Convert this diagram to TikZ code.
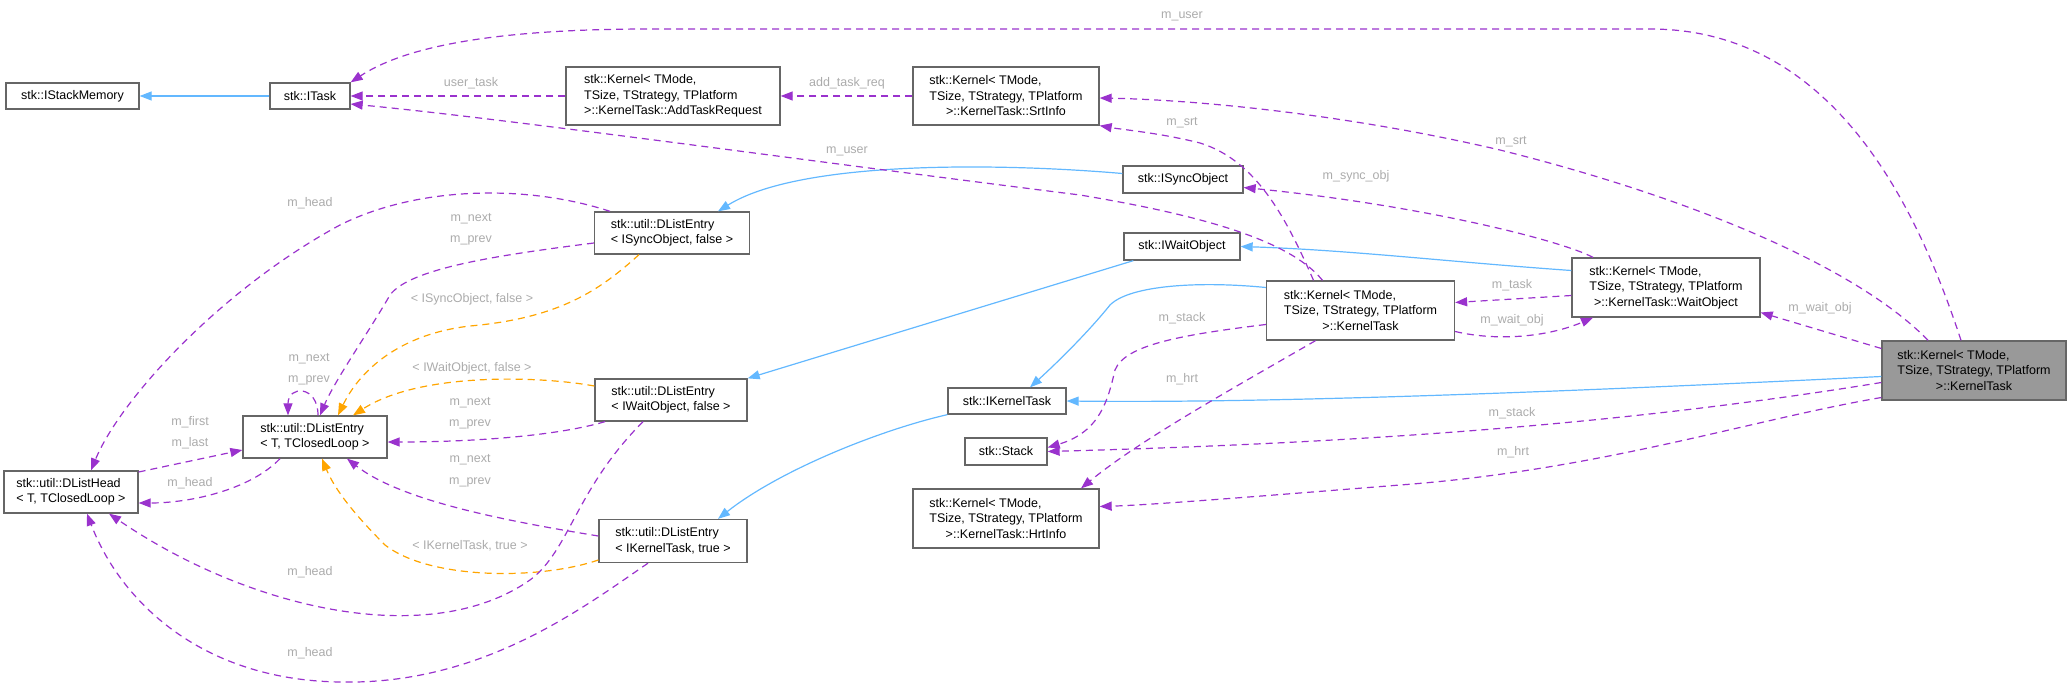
\documentclass[tikz,border=0pt]{standalone}
\usepackage{fontspec}
\setmainfont{Liberation Sans}
\usetikzlibrary{positioning, arrows.meta, calc}
\definecolor{usecol}{HTML}{9A32CD}
\definecolor{inhcol}{HTML}{63B8FF}
\definecolor{tplcol}{HTML}{FFA500}
\definecolor{boxcol}{HTML}{666666}
\definecolor{maincol}{HTML}{999999}
\definecolor{lblcol}{HTML}{ABABAB}
\newcommand{\midline}[1]{\hfill #1\hfill\mbox{}}

\begin{document}
\begin{tikzpicture}[x=1pt, y=-1pt,
	cls/.style={draw=boxcol, line width=1.3pt, fill=white, align=left, inner sep=2pt, font=\fontsize{12.5}{15.5}\selectfont},
	usage/.style={color=usecol, line width=1.2pt, dash pattern=on 7pt off 5pt, -{Triangle[length=12pt,width=9pt]}},
	inherit/.style={color=inhcol, line width=1.2pt, -{Triangle[length=12pt,width=9pt]}},
	tmpl/.style={color=tplcol, line width=1.2pt, dash pattern=on 7pt off 5pt, -{Triangle[length=12pt,width=9pt]}},
	lbl/.style={text=lblcol, inner sep=0pt, font=\fontsize{12.5}{15}\selectfont}]
						\useasboundingbox (0,0) rectangle (2072,687);
						
						% Classes
						\node[cls, minimum width=133pt, minimum height=26pt] (IStackMemory) at (72.5,96) {stk::IStackMemory};
						\node[cls, minimum width=80pt, minimum height=26pt] (ITask) at (310,96) {stk::ITask};
						\node[cls, minimum width=214pt, minimum height=58pt] (AddTaskReq) at (673,96) {stk::Kernel< TMode,\\ TSize, TStrategy, TPlatform\\ \midline{>::KernelTask::AddTaskRequest}};
						\node[cls, minimum width=186pt, minimum height=58pt] (SrtInfo) at (1006,96) {stk::Kernel< TMode,\\ TSize, TStrategy, TPlatform\\ \midline{>::KernelTask::SrtInfo}};
						\node[cls, minimum width=120pt, minimum height=27pt] (ISyncObject) at (1183,179.5) {stk::ISyncObject};
						\node[cls, minimum width=116pt, minimum height=27pt] (IWaitObject) at (1182,246.5) {stk::IWaitObject};
						\node[cls, minimum width=188pt, minimum height=59pt] (KTask) at (1360.5,310.5) {stk::Kernel< TMode,\\ TSize, TStrategy, TPlatform\\ \midline{>::KernelTask}};
						\node[cls, minimum width=188pt, minimum height=59pt] (WaitObj) at (1666,287.5) {stk::Kernel< TMode,\\ TSize, TStrategy, TPlatform\\ \midline{>::KernelTask::WaitObject}};
						\node[cls, fill=maincol, minimum width=184pt, minimum height=59pt] (Main) at (1974,370.5) {stk::Kernel< TMode,\\ TSize, TStrategy, TPlatform\\ \midline{>::KernelTask}};
						\node[cls, minimum width=118pt, minimum height=26pt] (IKernelTask) at (1007,401) {stk::IKernelTask};
						\node[cls, minimum width=82pt, minimum height=27pt] (Stack) at (1006,451.5) {stk::Stack};
						\node[cls, minimum width=186pt, minimum height=59pt] (HrtInfo) at (1006,518.5) {stk::Kernel< TMode,\\ TSize, TStrategy, TPlatform\\ \midline{>::KernelTask::HrtInfo}};
						\node[cls, minimum width=155pt, minimum height=42pt] (DLEsync) at (672,233) {stk::util::DListEntry\\< ISyncObject, false >};
						\node[cls, minimum width=152pt, minimum height=42pt] (DLEwait) at (671,400) {stk::util::DListEntry\\< IWaitObject, false >};
						\node[cls, minimum width=148pt, minimum height=43pt] (DLEktask) at (673,541) {stk::util::DListEntry\\< IKernelTask, true >};
						\node[cls, minimum width=144pt, minimum height=42pt] (DLEentry) at (315,437) {stk::util::DListEntry\\< T, TClosedLoop >};
						\node[cls, minimum width=134pt, minimum height=42pt] (DLEhead) at (71,492) {stk::util::DListHead\\< T, TClosedLoop >};
						
						% Inheritance
						\draw[inherit] (ITask) -- (IStackMemory);
						\draw[inherit] ([yshift=6pt]ISyncObject.west) .. controls (1000,163) and (800,160) .. ([xshift=46pt]DLEsync.north);
						\draw[inherit] ([yshift=17pt]WaitObj.west) .. controls (1450,262) and (1350,250) .. (IWaitObject.east);
						\draw[inherit] ([xshift=10pt]IWaitObject.south west) -- (DLEwait.north east);
						\draw[inherit] ([yshift=23pt]KTask.west) .. controls (1200,281) and (1130,285) .. (1110,305) .. controls (1090,330) and (1060,360) .. ([xshift=23pt]IKernelTask.north);
						\draw[inherit] ([yshift=-6pt]Main.west) .. controls (1500,395) and (1250,403) .. (IKernelTask.east);
						\draw[inherit] (IKernelTask.south west) .. controls (880,430) and (780,470) .. ([xshift=45pt]DLEktask.north);
						
						% Members
						\draw[usage] (AddTaskReq) -- (ITask);
						\draw[usage] (SrtInfo) -- (AddTaskReq);
						\draw[usage] ([xshift=-13pt]Main.north) .. controls (1915,200) and (1830,29) .. (1650,29) -- (650,29) .. controls (480,29) and (400,50) .. (ITask.north east);
						\draw[usage] ([xshift=-38pt]KTask.north) .. controls (1290,240) and (1200,215) .. (1080,195) .. controls (800,160) and (500,118) .. ([yshift=-8pt]ITask.east);
						\draw[usage] ([xshift=-46pt]Main.north) .. controls (1860,270) and (1700,200) .. (1500,150) .. controls (1350,115) and (1200,100) .. ([yshift=-2pt]SrtInfo.east);
						\draw[usage] ([xshift=-47pt]KTask.north) .. controls (1285,215) and (1255,160) .. (1200,143) .. controls (1160,133) and (1125,130) .. (SrtInfo.south east);
						\draw[usage] ([xshift=-73pt]WaitObj.north) .. controls (1560,240) and (1420,205) .. ([yshift=-8pt]ISyncObject.east);
						\draw[usage] ([yshift=-8pt]WaitObj.west) -- ([yshift=8pt]KTask.east);
						\draw[usage] ([yshift=-21pt]KTask.east) .. controls (1500,342) and (1550,336) .. ([xshift=-73pt]WaitObj.south);
						\draw[usage] ([yshift=22pt]Main.west) -- ([yshift=-25pt]WaitObj.east);
						\draw[usage] ([yshift=-14pt]KTask.west) .. controls (1180,335) and (1125,345) .. (1115,370) .. controls (1108,400) and (1100,432) .. ([yshift=4pt]Stack.east);
						\draw[usage] ([yshift=-12pt]Main.west) .. controls (1650,420) and (1400,442) .. (Stack.east);
						\draw[usage] ([xshift=-45pt]KTask.south) .. controls (1230,390) and (1140,440) .. ([xshift=75pt]HrtInfo.north);
						\draw[usage] ([yshift=-27pt]Main.west) .. controls (1750,420) and (1600,470) .. (1400,485) .. controls (1250,497) and (1150,505) .. ([yshift=12pt]HrtInfo.east);
						
						% List entries
						\draw[usage] ([yshift=-10pt]DLEsync.west) .. controls (500,255) and (410,268) .. (390,295) .. controls (370,330) and (335,380) .. ([xshift=5pt]DLEentry.north);
						\draw[usage] ([xshift=3pt]DLEentry.north) .. controls (318,385) and (288,385) .. ([xshift=-27pt]DLEentry.north);
						\draw[tmpl] ([xshift=-33pt]DLEsync.south) .. controls (600,290) and (560,318) .. (470,326) .. controls (400,334) and (360,370) .. ([xshift=23pt]DLEentry.north);
						\draw[tmpl] ([yshift=14pt]DLEwait.west) .. controls (540,376) and (420,372) .. ([xshift=38pt]DLEentry.north);
						\draw[usage] ([xshift=-66pt]DLEwait.south) .. controls (560,435) and (480,442) .. ([yshift=-5pt]DLEentry.east);
						\draw[usage] ([yshift=5pt]DLEktask.west) .. controls (500,520) and (400,500) .. ([xshift=32pt]DLEentry.south);
						\draw[tmpl] ([yshift=-19pt]DLEktask.west) .. controls (540,580) and (430,580) .. (385,545) .. controls (355,515) and (335,490) .. ([xshift=7pt]DLEentry.south);
						\draw[usage] ([yshift=20pt]DLEhead.east) -- ([yshift=-13pt]DLEentry.west);
						\draw[usage] ([xshift=-35pt]DLEentry.south) .. controls (250,490) and (190,503) .. ([yshift=-11pt]DLEhead.east);
						\draw[usage] ([xshift=-62pt]DLEsync.north) .. controls (530,185) and (420,185) .. (340,225) .. controls (220,290) and (120,400) .. ([xshift=20pt]DLEhead.north);
						\draw[usage] ([xshift=-28pt]DLEwait.south) .. controls (575,490) and (570,550) .. (530,580) .. controls (430,650) and (250,610) .. ([xshift=38pt]DLEhead.south);
						\draw[usage] ([xshift=-25pt]DLEktask.south) .. controls (580,610) and (480,685) .. (340,682) .. controls (200,680) and (120,600) .. ([xshift=16pt]DLEhead.south);
						
						% Labels
						\node[lbl] (lUser1) at (1182,16) {m\_user};
						\node[lbl] (lUserTask) at (471,83) {user\_task};
						\node[lbl] (lAddTask) at (847,83) {add\_task\_req};
						\node[lbl] (lSrt1) at (1182,123) {m\_srt};
						\node[lbl] (lUser2) at (847,151) {m\_user};
						\node[lbl] (lSyncObj) at (1356,176) {m\_sync\_obj};
						\node[lbl] (lSrt2) at (1511,142) {m\_srt};
						\node[lbl] (lHead1) at (310,203) {m\_head};
						\node[lbl] (lNext1) at (471,219) {m\_next};
						\node[lbl] (lPrev1) at (471,240) {m\_prev};
						\node[lbl] (lTplSync) at (472,299) {< ISyncObject, false >};
						\node[lbl] (lNext2) at (309,359) {m\_next};
						\node[lbl] (lPrev2) at (309,380) {m\_prev};
						\node[lbl] (lTplWait) at (472,368) {< IWaitObject, false >};
						\node[lbl] (lNext3) at (470,403) {m\_next};
						\node[lbl] (lPrev3) at (470,424) {m\_prev};
						\node[lbl] (lFirst) at (190,422) {m\_first};
						\node[lbl] (lLast) at (190,443) {m\_last};
						\node[lbl] (lHead2) at (190,483) {m\_head};
						\node[lbl] (lNext4) at (470,460) {m\_next};
						\node[lbl] (lPrev4) at (470,482) {m\_prev};
						\node[lbl] (lTplTask) at (470,546) {< IKernelTask, true >};
						\node[lbl] (lHead3) at (310,572) {m\_head};
						\node[lbl] (lHead4) at (310,653) {m\_head};
						\node[lbl] (lTask) at (1512,285) {m\_task};
						\node[lbl] (lWaitObj1) at (1512,320) {m\_wait\_obj};
						\node[lbl] (lWaitObj2) at (1820,308) {m\_wait\_obj};
						\node[lbl] (lStack1) at (1182,318) {m\_stack};
						\node[lbl] (lHrt1) at (1182,379) {m\_hrt};
						\node[lbl] (lStack2) at (1512,413) {m\_stack};
						\node[lbl] (lHrt2) at (1513,452) {m\_hrt};
						
					\end{tikzpicture}
\end{document}
